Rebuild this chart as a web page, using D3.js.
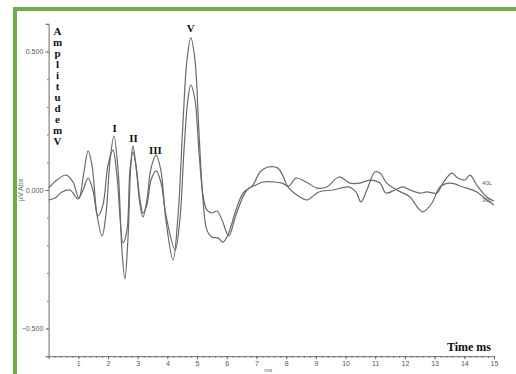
<!DOCTYPE html>
<html>
<head>
<meta charset="utf-8">
<script src="https://cdn.jsdelivr.net/npm/d3@7"></script>
<style>
  body { margin: 0; background: #fff; }
  svg { display: block; }
</style>
</head>
<body>
<svg id="chart"></svg>
<script>
// waveform: time in ms, amplitude in uV
const timeA = [0, 0.28, 0.59, 0.82, 1.02, 1.19, 1.33, 1.46, 1.63, 1.80, 1.93, 2.07, 2.20, 2.34, 2.47, 2.57, 2.67, 2.77, 2.84, 2.94, 3.08, 3.18, 3.31, 3.45, 3.62, 3.78, 3.95, 4.19, 4.36, 4.53, 4.66, 4.79, 4.93, 5.06, 5.20, 5.33, 5.50, 5.70, 5.87, 6.04, 6.31, 6.55, 6.88, 7.12, 7.39, 7.72, 7.89, 8.06, 8.46, 8.70, 9.10, 9.58, 10.11, 10.35, 10.52, 10.72, 10.99, 11.16, 11.39, 11.73, 12.17, 12.44, 12.61, 12.91, 13.18, 13.52, 13.95, 14.42, 14.76, 15.0];
const ampA = [0.007, 0.036, 0.054, 0.029, -0.029, 0.065, 0.141, 0.090, -0.090, -0.166, -0.090, 0.108, 0.195, 0.072, -0.217, -0.321, -0.181, 0.090, 0.159, 0.090, -0.054, -0.097, -0.036, 0.079, 0.126, 0.072, -0.108, -0.253, -0.090, 0.253, 0.469, 0.549, 0.469, 0.217, -0.036, -0.144, -0.170, -0.173, -0.188, -0.162, -0.072, -0.011, 0.018, 0.065, 0.083, 0.079, 0.051, 0.011, -0.025, -0.036, -0.007, 0, 0.011, -0.007, -0.043, 0, 0.065, 0.061, 0.025, 0, -0.025, -0.065, -0.079, -0.047, 0.011, 0.025, 0.011, -0.007, -0.036, -0.054];

const timeB = [0, 0.22, 0.45, 0.72, 0.99, 1.16, 1.33, 1.49, 1.66, 1.83, 2.00, 2.17, 2.30, 2.51, 2.64, 2.74, 2.84, 2.94, 3.08, 3.18, 3.31, 3.45, 3.62, 3.78, 3.95, 4.26, 4.42, 4.56, 4.69, 4.79, 4.93, 5.06, 5.20, 5.33, 5.50, 5.67, 5.84, 6.07, 6.31, 6.68, 6.98, 7.22, 7.56, 7.86, 8.09, 8.33, 8.67, 9.04, 9.37, 9.78, 10.15, 10.48, 10.82, 11.16, 11.36, 11.66, 11.93, 12.17, 12.51, 12.74, 13.08, 13.28, 13.58, 13.78, 14.02, 14.19, 14.46, 14.76, 15.0];
const ampB = [-0.036, -0.029, -0.007, 0, -0.032, 0, 0.043, 0, -0.094, -0.054, 0.090, 0.144, 0.054, -0.191, -0.144, 0.072, 0.137, 0.090, -0.036, -0.083, -0.054, 0.036, 0.069, 0.029, -0.090, -0.217, -0.108, 0.144, 0.325, 0.379, 0.325, 0.144, -0.018, -0.072, -0.083, -0.076, -0.108, -0.166, -0.090, 0, 0.018, 0.029, 0.029, 0.025, 0.014, 0.043, 0.029, 0.007, 0.011, 0.047, 0.025, 0.025, 0.036, 0.025, -0.011, 0, 0.011, 0, -0.011, -0.007, -0.011, 0.025, 0.061, 0.043, 0.036, 0.054, 0.011, -0.025, -0.040];

const xTicks = [1, 2, 3, 4, 5, 6, 7, 8, 9, 10, 11, 12, 13, 14, 15];
const yTicks = [0.5, 0, -0.5];
const ampLetters = ['A', 'm', 'p', 'l', 'i', 't', 'u', 'd', 'e', 'm', 'V'];

// wave labels, placed a bit above their peak
const peakNames = ['I', 'II', 'III', 'V'];
const peakTime = [2.22, 2.86, 3.60, 4.79];
const peakAmp = [0.21, 0.175, 0.13, 0.57];

const seriesNames = ['40L', '30L'];
const seriesAmp = [0.018, -0.045];

const width = 516;
const height = 374;

const svg = d3.select('#chart')
  .attr('width', width)
  .attr('height', height);

// green frame, right and bottom are cut off in the picture
svg.append('rect')
  .attr('x', 13).attr('y', 7)
  .attr('width', 4).attr('height', height - 7)
  .attr('fill', '#6fad47');
svg.append('rect')
  .attr('x', 13).attr('y', 7)
  .attr('width', width - 13).attr('height', 4)
  .attr('fill', '#6fad47');

const xScale = d3.scaleLinear().domain([0, 15]).range([48.6, 494]);
const yScale = d3.scaleLinear().domain([-0.6, 0.6]).range([356.2, 23.8]);

const grey = '#5a5a5a';
const sans = 'Liberation Sans, Arial, sans-serif';

// x axis
const xAxis = d3.axisBottom(xScale)
  .tickValues(xTicks)
  .tickSize(3)
  .tickFormat(d3.format('d'));
const gx = svg.append('g')
  .attr('transform', `translate(0, ${yScale(-0.6)})`)
  .call(xAxis);

const xMinor = d3.axisBottom(xScale)
  .tickValues(d3.range(0.2, 15, 0.2))
  .tickSize(1.5)
  .tickFormat('');
const gxm = svg.append('g')
  .attr('transform', `translate(0, ${yScale(-0.6)})`)
  .call(xMinor);
gxm.select('.domain').remove();

// y axis
const yAxis = d3.axisLeft(yScale)
  .tickValues(yTicks)
  .tickSize(3)
  .tickFormat(d3.format('.3f'));
const gy = svg.append('g')
  .attr('transform', `translate(${xScale(0)}, 0)`)
  .call(yAxis);

const yMinor = d3.axisLeft(yScale)
  .tickValues(d3.range(-0.6, 0.61, 0.1))
  .tickSize(1.5)
  .tickFormat('');
const gym = svg.append('g')
  .attr('transform', `translate(${xScale(0)}, 0)`)
  .call(yMinor);
gym.select('.domain').remove();

svg.selectAll('.domain, .tick line')
  .attr('stroke', grey)
  .attr('stroke-width', 0.9);
svg.selectAll('.tick text')
  .attr('fill', '#555')
  .style('font-family', sans)
  .style('font-size', '7px');
gx.selectAll('.tick text').attr('dy', '0.5em');
gy.selectAll('.tick text').attr('dx', '0.1em');

// axis names
svg.append('text')
  .attr('x', xScale(7.4)).attr('y', 372)
  .attr('text-anchor', 'middle')
  .attr('fill', '#666')
  .style('font-family', sans)
  .style('font-size', '6px')
  .text('ms');

svg.append('text')
  .attr('transform', `translate(23, ${yScale(0)}) rotate(-90)`)
  .attr('text-anchor', 'middle')
  .attr('fill', '#666')
  .style('font-family', sans)
  .style('font-size', '7px')
  .text('µV Abs');

// waveforms
let line = d3.line()
  .x(d => xScale(d[0]))
  .y(d => yScale(d[1]))
  .curve(d3.curveCatmullRom.alpha(0.5));

svg.append('path')
  .datum(timeA.map((t, i) => [t, ampA[i]]))
  .attr('d', line)
  .attr('fill', 'none')
  .attr('stroke', '#6a6a6a')
  .attr('stroke-width', 1.2);

svg.append('path')
  .datum(timeB.map((t, i) => [t, ampB[i]]))
  .attr('d', line)
  .attr('fill', 'none')
  .attr('stroke', '#6a6a6a')
  .attr('stroke-width', 1.2);

// series tags at the right end
svg.selectAll('.serie')
  .data(seriesNames)
  .enter()
  .append('text')
  .attr('class', 'serie')
  .attr('x', xScale(14.6))
  .attr('y', (d, i) => yScale(seriesAmp[i]))
  .attr('fill', '#666')
  .style('font-family', sans)
  .style('font-size', '6px')
  .text(d => d);

// bold serif annotations
const serif = 'Liberation Serif, Times New Roman, serif';

svg.selectAll('.letter')
  .data(ampLetters)
  .enter()
  .append('text')
  .attr('class', 'letter')
  .attr('x', 57.5)
  .attr('y', (d, i) => 35 + i * 11)
  .attr('text-anchor', 'middle')
  .attr('fill', '#111')
  .style('font-family', serif)
  .style('font-weight', 'bold')
  .style('font-size', '11px')
  .text(d => d);

svg.selectAll('.peak')
  .data(peakNames)
  .enter()
  .append('text')
  .attr('class', 'peak')
  .attr('x', (d, i) => xScale(peakTime[i]))
  .attr('y', (d, i) => yScale(peakAmp[i]))
  .attr('text-anchor', 'middle')
  .attr('fill', '#111')
  .style('font-family', serif)
  .style('font-weight', 'bold')
  .style('font-size', '11px')
  .text(d => d);

svg.append('text')
  .attr('x', 491).attr('y', 351)
  .attr('text-anchor', 'end')
  .attr('fill', '#111')
  .style('font-family', serif)
  .style('font-weight', 'bold')
  .style('font-size', '12px')
  .text('Time ms');
</script>
</body>
</html>
